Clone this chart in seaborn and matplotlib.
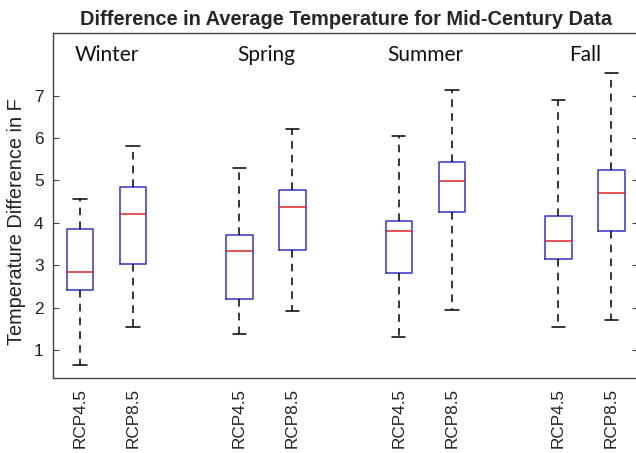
import numpy as np
import pandas as pd
import matplotlib
matplotlib.use("Agg")
import matplotlib.pyplot as plt
import matplotlib.transforms as mtransforms
import seaborn as sns

seasons = ["Winter", "Spring", "Summer", "Fall"]
scenarios = ["RCP4.5", "RCP8.5"]

# five-number summaries, order: Winter 4.5, Winter 8.5, Spring 4.5, Spring 8.5, ...
whisker_low = [0.65, 1.54, 1.37, 1.91, 1.31, 1.95, 1.53, 1.71]
q1 = [2.42, 3.02, 2.20, 3.36, 2.82, 4.26, 3.15, 3.80]
median = [2.84, 4.21, 3.34, 4.37, 3.80, 4.98, 3.57, 4.70]
q3 = [3.85, 4.84, 3.71, 4.77, 4.05, 5.44, 4.16, 5.25]
whisker_high = [4.56, 5.82, 5.29, 6.21, 6.04, 7.13, 6.90, 7.53]

rows = []
for i in range(len(median)):
    s_idx, r_idx = divmod(i, 2)
    pos = 3 * s_idx + r_idx + 1
    for v in (whisker_low[i], q1[i], median[i], q3[i], whisker_high[i]):
        rows.append({"pos": pos, "value": v})
df = pd.DataFrame(rows)

sns.set_style("white")
plt.rcParams["font.family"] = ["Liberation Sans", "DejaVu Sans"]

fig = plt.figure(figsize=(6.36, 4.53), dpi=100)
ax = fig.add_axes([53.3 / 636, 74.7 / 453, (638 - 53.3) / 636, (378.3 - 33) / 453])

sns.boxplot(
    data=df, x="pos", y="value", native_scale=True, width=0.5, whis=(0, 100),
    fill=False, ax=ax, linewidth=1.1,
    boxprops=dict(color="#3333cc"),
    medianprops=dict(color="#dd2222"),
    whiskerprops=dict(color="black", linestyle=(0, (5, 4))),
    capprops=dict(color="black"),
    showfliers=False,
)

ax.set_xlim(0.5, 11.5)
ax.set_ylim(0.33, 8.48)

positions = [3 * s + r + 1 for s in range(len(seasons)) for r in range(len(scenarios))]
labels = [sc for _ in seasons for sc in scenarios]
ax.set_xticks(positions)
ax.set_xticklabels(labels, rotation=90, fontsize=12.3, color="#222222")
offset = mtransforms.ScaledTranslation(4 / 100, 0, fig.dpi_scale_trans)
for lbl in ax.get_xticklabels():
    lbl.set_transform(lbl.get_transform() + offset)
ax.set_yticks([1, 2, 3, 4, 5, 6, 7])
ax.set_yticklabels(["1", "2", "3", "4", "5", "6", "7"], fontsize=12.5, color="#222222")
ax.tick_params(axis="y", direction="in", length=4, left=True, right=True, pad=7, color="#444444")
ax.tick_params(axis="x", direction="in", length=0, pad=7)
for sp in ax.spines.values():
    sp.set_visible(True)
    sp.set_color("#444444")
    sp.set_linewidth(1.0)

ax.set_xlabel("")
ax.set_ylabel("Temperature Difference in F", fontsize=14.3, color="#222222")
ax.yaxis.set_label_coords(-0.046, 0.453)
ax.set_title("Difference in Average Temperature for Mid-Century Data",
             fontsize=14.4, fontweight="bold", pad=6)

for s_idx, name in enumerate(seasons):
    ax.text(3 * s_idx + 1.5, 7.96, name, ha="center", va="center",
            fontsize=15, family=["Lato", "DejaVu Sans"], color="#111111")

fig.savefig("out.png", dpi=100)
